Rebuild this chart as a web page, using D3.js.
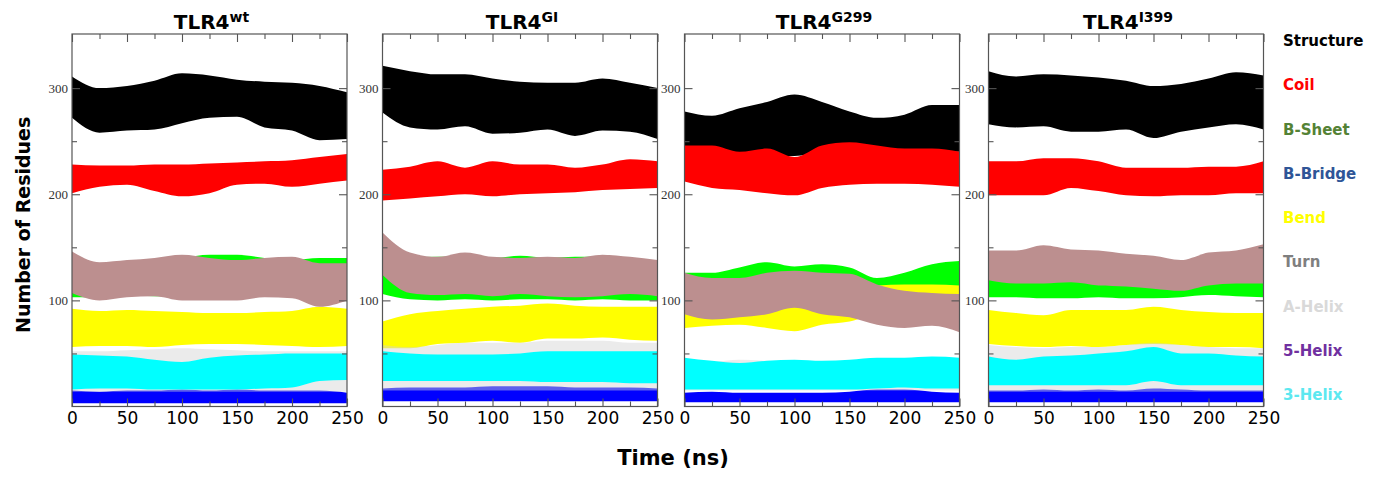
<!DOCTYPE html>
<html>
<head>
<meta charset="utf-8">
<script src="https://cdn.jsdelivr.net/npm/d3@7"></script>
<style>
  body { margin: 0; background: #fff; }
  svg { display: block; }
</style>
</head>
<body>
<div id="chart"></div>
<script>
// panel superscripts (TLR4 + variant)
var panelNames = ["wt", "GI", "G299", "I399"];

var times = [0, 25, 50, 75, 100, 125, 150, 175, 200, 225, 250];

// envelope (low / high) of each noisy trace, one row per panel
var structureHi = [
  [311, 300, 302, 307, 314, 312, 308, 306, 305, 302, 296],
  [321, 316, 313, 313, 309, 306, 305, 305, 309, 305, 300],
  [278, 274, 281, 287, 294, 287, 278, 272, 275, 284, 284],
  [316, 311, 313, 312, 310, 307, 302, 304, 309, 315, 312]
];
var structureLo = [
  [272, 258, 260, 261, 267, 272, 273, 263, 260, 251, 252],
  [277, 263, 261, 264, 257, 258, 261, 255, 260, 259, 252],
  [240, 240, 238, 236, 236, 240, 242, 240, 240, 240, 240],
  [266, 263, 264, 259, 259, 261, 253, 259, 263, 266, 261]
];
var coilHi = [
  [228, 227, 227, 228, 228, 229, 230, 231, 232, 235, 238],
  [223, 226, 231, 225, 231, 228, 228, 225, 228, 233, 231],
  [246, 246, 240, 243, 235, 246, 249, 246, 243, 243, 240],
  [231, 231, 234, 234, 231, 225, 225, 225, 226, 226, 231]
];
var coilLo = [
  [201, 207, 209, 203, 198, 201, 209, 210, 207, 210, 213],
  [194, 196, 198, 200, 198, 200, 201, 202, 204, 205, 206],
  [212, 206, 204, 201, 199, 206, 209, 210, 210, 209, 207],
  [199, 199, 199, 206, 203, 199, 198, 199, 199, 201, 201]
];
var sheetHi = [
  [140, 134, 136, 138, 140, 143, 143, 140, 138, 140, 140],
  [128, 140, 141, 141, 140, 142, 140, 141, 141, 140, 137],
  [126, 126, 131, 136, 132, 134, 131, 121, 126, 134, 137],
  [126, 124, 124, 124, 122, 122, 120, 120, 124, 124, 124]
];
var sheetLo = [
  [103, 103, 105, 104, 104, 103, 103, 104, 104, 104, 103],
  [106, 101, 100, 101, 100, 101, 101, 100, 101, 100, 100],
  [108, 108, 110, 110, 110, 110, 110, 108, 108, 110, 112],
  [103, 103, 102, 102, 103, 102, 102, 103, 105, 104, 103]
];
var bridgeHi = [
  [15, 14, 15, 15, 16, 15, 16, 15, 15, 15, 13],
  [17, 18, 18, 18, 19, 19, 19, 18, 18, 18, 17],
  [13, 14, 13, 13, 13, 13, 14, 16, 16, 14, 13],
  [15, 15, 16, 15, 16, 15, 17, 16, 15, 15, 15]
];
var bridgeLo = [
  [3, 3, 3, 3, 3, 3, 3, 3, 3, 3, 3],
  [5, 5, 5, 5, 5, 5, 5, 5, 5, 5, 5],
  [4, 4, 4, 4, 4, 4, 4, 4, 4, 4, 4],
  [4, 4, 4, 4, 4, 4, 4, 4, 4, 4, 4]
];
var bendHi = [
  [92, 90, 91, 90, 89, 88, 88, 89, 90, 94, 92],
  [80, 87, 90, 92, 94, 95, 97, 95, 94, 94, 94],
  [120, 118, 112, 112, 112, 112, 112, 114, 115, 115, 114],
  [91, 88, 86, 91, 91, 91, 94, 91, 89, 88, 88]
];
var bendLo = [
  [56, 57, 57, 56, 58, 59, 59, 58, 57, 56, 57],
  [55, 55, 59, 60, 62, 60, 64, 64, 65, 63, 62],
  [74, 76, 77, 74, 71, 77, 80, 87, 80, 80, 80],
  [59, 57, 56, 57, 56, 58, 59, 58, 56, 56, 55]
];
var turnHi = [
  [146, 136, 138, 140, 143, 140, 138, 140, 141, 135, 135],
  [164, 145, 141, 145, 141, 140, 141, 140, 143, 141, 138],
  [126, 121, 121, 126, 128, 126, 125, 115, 109, 107, 106],
  [147, 147, 152, 148, 147, 144, 142, 138, 145, 147, 153]
];
var turnLo = [
  [107, 100, 103, 104, 100, 100, 100, 103, 102, 94, 100],
  [124, 107, 105, 106, 104, 106, 104, 103, 104, 106, 104],
  [87, 82, 84, 87, 93, 87, 84, 77, 74, 76, 70],
  [119, 116, 116, 117, 114, 113, 111, 109, 114, 116, 116]
];
var aHelixHi = [
  [52, 52, 53, 54, 55, 54, 53, 52, 52, 52, 52],
  [58, 56, 58, 60, 60, 60, 62, 62, 62, 60, 60],
  [44, 42, 44, 43, 42, 42, 43, 45, 45, 46, 45],
  [58, 56, 55, 56, 56, 58, 60, 58, 56, 55, 55]
];
var aHelixLo = [
  [14, 14, 14, 14, 14, 14, 14, 14, 14, 14, 14],
  [15, 15, 15, 15, 15, 15, 15, 15, 15, 15, 15],
  [15, 15, 15, 15, 15, 15, 15, 15, 15, 15, 15],
  [14, 14, 14, 14, 14, 14, 14, 14, 14, 14, 14]
];
var helix5 = [
  [0, 0, 0, 0, 0, 0, 0, 0, 0, 0, 0],
  [0, 0, 0, 0, 0, 0, 0, 0, 0, 0, 0],
  [0, 0, 0, 0, 0, 0, 0, 0, 0, 0, 0],
  [0, 0, 0, 0, 0, 0, 0, 0, 0, 0, 0]
];
var helix3Hi = [
  [49, 48, 47, 44, 42, 46, 48, 49, 50, 50, 50],
  [52, 50, 49, 49, 49, 50, 52, 52, 52, 52, 52],
  [46, 43, 41, 43, 44, 43, 44, 46, 46, 47, 46],
  [47, 44, 47, 48, 50, 52, 56, 50, 50, 48, 47]
];
var helix3Lo = [
  [16, 17, 17, 16, 16, 16, 16, 17, 18, 24, 25],
  [24, 24, 24, 24, 24, 24, 23, 23, 23, 22, 22],
  [16, 16, 16, 16, 16, 16, 16, 17, 18, 17, 17],
  [20, 20, 20, 20, 20, 20, 24, 20, 20, 20, 20]
];

var legendNames = ["Structure", "Coil", "B-Sheet", "B-Bridge", "Bend", "Turn", "A-Helix", "5-Helix", "3-Helix"];

// colours
var traceColors = ["#000000", "#ff0000", "#00ff00", "#0000ff", "#ffff00", "#bc8f8f", "#d3d3d3", "#9400d3", "#00ffff"];
var legendColors = ["#000000", "#ff0000", "#548235", "#2f5597", "#ffff00", "#7f7f7f", "#d9d9d9", "#7030a0", "#5ce8f0"];

// band list in drawing order (later ones on top)
var bands = [
  {lo: structureLo, hi: structureHi, c: 0},
  {lo: coilLo, hi: coilHi, c: 1},
  {lo: sheetLo, hi: sheetHi, c: 2},
  {lo: bridgeLo, hi: bridgeHi, c: 3},
  {lo: bendLo, hi: bendHi, c: 4},
  {lo: turnLo, hi: turnHi, c: 5},
  {lo: aHelixLo, hi: aHelixHi, c: 6, op: 0.45},
  {lo: helix3Lo, hi: helix3Hi, c: 8}
];

var svgWidth = 1379, svgHeight = 481;
var panelLeft = [72, 382.5, 684.5, 988.5];
var panelWidth = 275;
var plotTop = 34, plotBottom = 406.5;

var svg = d3.select("#chart").append("svg")
  .attr("width", svgWidth)
  .attr("height", svgHeight);

var y = d3.scaleLinear().domain([0, 351]).range([plotBottom, plotTop]);

panelNames.forEach(function(name, i) {
  var left = panelLeft[i];
  var x = d3.scaleLinear().domain([0, 250]).range([left, left + panelWidth]);

  svg.append("clipPath").attr("id", "clip" + i)
    .append("rect")
    .attr("x", left).attr("y", plotTop)
    .attr("width", panelWidth).attr("height", plotBottom - plotTop);

  var g = svg.append("g").attr("clip-path", "url(#clip" + i + ")");

  bands.forEach(function(b) {
    var rows = times.map(function(t, j) { return {t: t, lo: b.lo[i][j], hi: b.hi[i][j]}; });
    var area = d3.area()
      .x(function(d) { return x(d.t); })
      .y0(function(d) { return y(d.lo); })
      .y1(function(d) { return y(d.hi); })
      .curve(d3.curveMonotoneX);
    g.append("path")
      .datum(rows)
      .attr("d", area)
      .attr("fill", traceColors[b.c])
      .attr("fill-opacity", b.op || 1);
  });

  // 5-Helix sits on zero
  var line5 = d3.line()
    .x(function(d, j) { return x(times[j]); })
    .y(function(d) { return y(d); });
  g.append("path").datum(helix5[i])
    .attr("d", line5)
    .attr("fill", "none")
    .attr("stroke", traceColors[7])
    .attr("stroke-width", 1);

  // axes: ticks point inward on every side
  var majorX = [0, 50, 100, 150, 200, 250], minorX = [25, 75, 125, 175, 225];
  var majorY = [100, 200, 300], minorY = [50, 150, 250];

  svg.append("g").attr("class", "xaxis")
    .attr("transform", "translate(0," + plotBottom + ")")
    .call(d3.axisBottom(x).tickValues(majorX).tickSize(-8).tickPadding(5).tickFormat(d3.format("d")));
  svg.append("g").attr("transform", "translate(0," + plotBottom + ")")
    .call(d3.axisBottom(x).tickValues(minorX).tickSize(-5).tickFormat(""));
  svg.append("g").attr("transform", "translate(0," + plotTop + ")")
    .call(d3.axisTop(x).tickValues(majorX).tickSize(-8).tickFormat(""));
  svg.append("g").attr("transform", "translate(0," + plotTop + ")")
    .call(d3.axisTop(x).tickValues(minorX).tickSize(-5).tickFormat(""));

  svg.append("g").attr("class", "yaxis")
    .attr("transform", "translate(" + left + ",0)")
    .call(d3.axisLeft(y).tickValues(majorY).tickSize(-8).tickPadding(4));
  svg.append("g").attr("transform", "translate(" + left + ",0)")
    .call(d3.axisLeft(y).tickValues(minorY).tickSize(-5).tickFormat(""));
  svg.append("g").attr("transform", "translate(" + (left + panelWidth) + ",0)")
    .call(d3.axisRight(y).tickValues(majorY).tickSize(-8).tickFormat(""));
  svg.append("g").attr("transform", "translate(" + (left + panelWidth) + ",0)")
    .call(d3.axisRight(y).tickValues(minorY).tickSize(-5).tickFormat(""));

  // frame
  svg.append("rect")
    .attr("x", left).attr("y", plotTop)
    .attr("width", panelWidth).attr("height", plotBottom - plotTop)
    .attr("fill", "none")
    .attr("stroke", "#555")
    .attr("stroke-width", 1.2);

  // title with superscript
  var title = svg.append("text")
    .attr("x", left + panelWidth / 2 + 2)
    .attr("y", 29)
    .attr("text-anchor", "middle")
    .style("font-family", "DejaVu Sans, sans-serif")
    .style("font-weight", "bold")
    .style("font-size", "20px")
    .attr("fill", "#000");
  title.append("tspan").text("TLR4");
  title.append("tspan").text(name)
    .attr("dy", -7)
    .style("font-size", "14px");
});

svg.selectAll(".domain").remove();
svg.selectAll(".tick line").attr("stroke", "#555").attr("stroke-width", 1.1);

svg.selectAll(".xaxis text")
  .style("font-family", "DejaVu Sans, sans-serif")
  .style("font-size", "17px")
  .attr("fill", "#000");

svg.selectAll(".yaxis text")
  .style("font-family", "Liberation Serif, serif")
  .style("font-size", "13px")
  .attr("fill", "#333");

// axis titles
svg.append("text")
  .attr("transform", "translate(30,333)rotate(-90)")
  .attr("text-anchor", "start")
  .style("font-family", "DejaVu Sans, sans-serif")
  .style("font-weight", "bold")
  .style("font-size", "19px")
  .text("Number of Residues");

svg.append("text")
  .attr("x", 673)
  .attr("y", 465)
  .attr("text-anchor", "middle")
  .style("font-family", "DejaVu Sans, sans-serif")
  .style("font-weight", "bold")
  .style("font-size", "21px")
  .text("Time (ns)");

// legend as coloured words
svg.selectAll(".legend")
  .data(legendNames)
  .enter()
  .append("text")
  .attr("class", "legend")
  .attr("x", 1283)
  .attr("y", function(d, i) { return 46 + i * 44.25; })
  .style("font-family", "DejaVu Sans, sans-serif")
  .style("font-weight", "bold")
  .style("font-size", "15px")
  .attr("fill", function(d, i) { return legendColors[i]; })
  .text(function(d) { return d; });
</script>
</body>
</html>
